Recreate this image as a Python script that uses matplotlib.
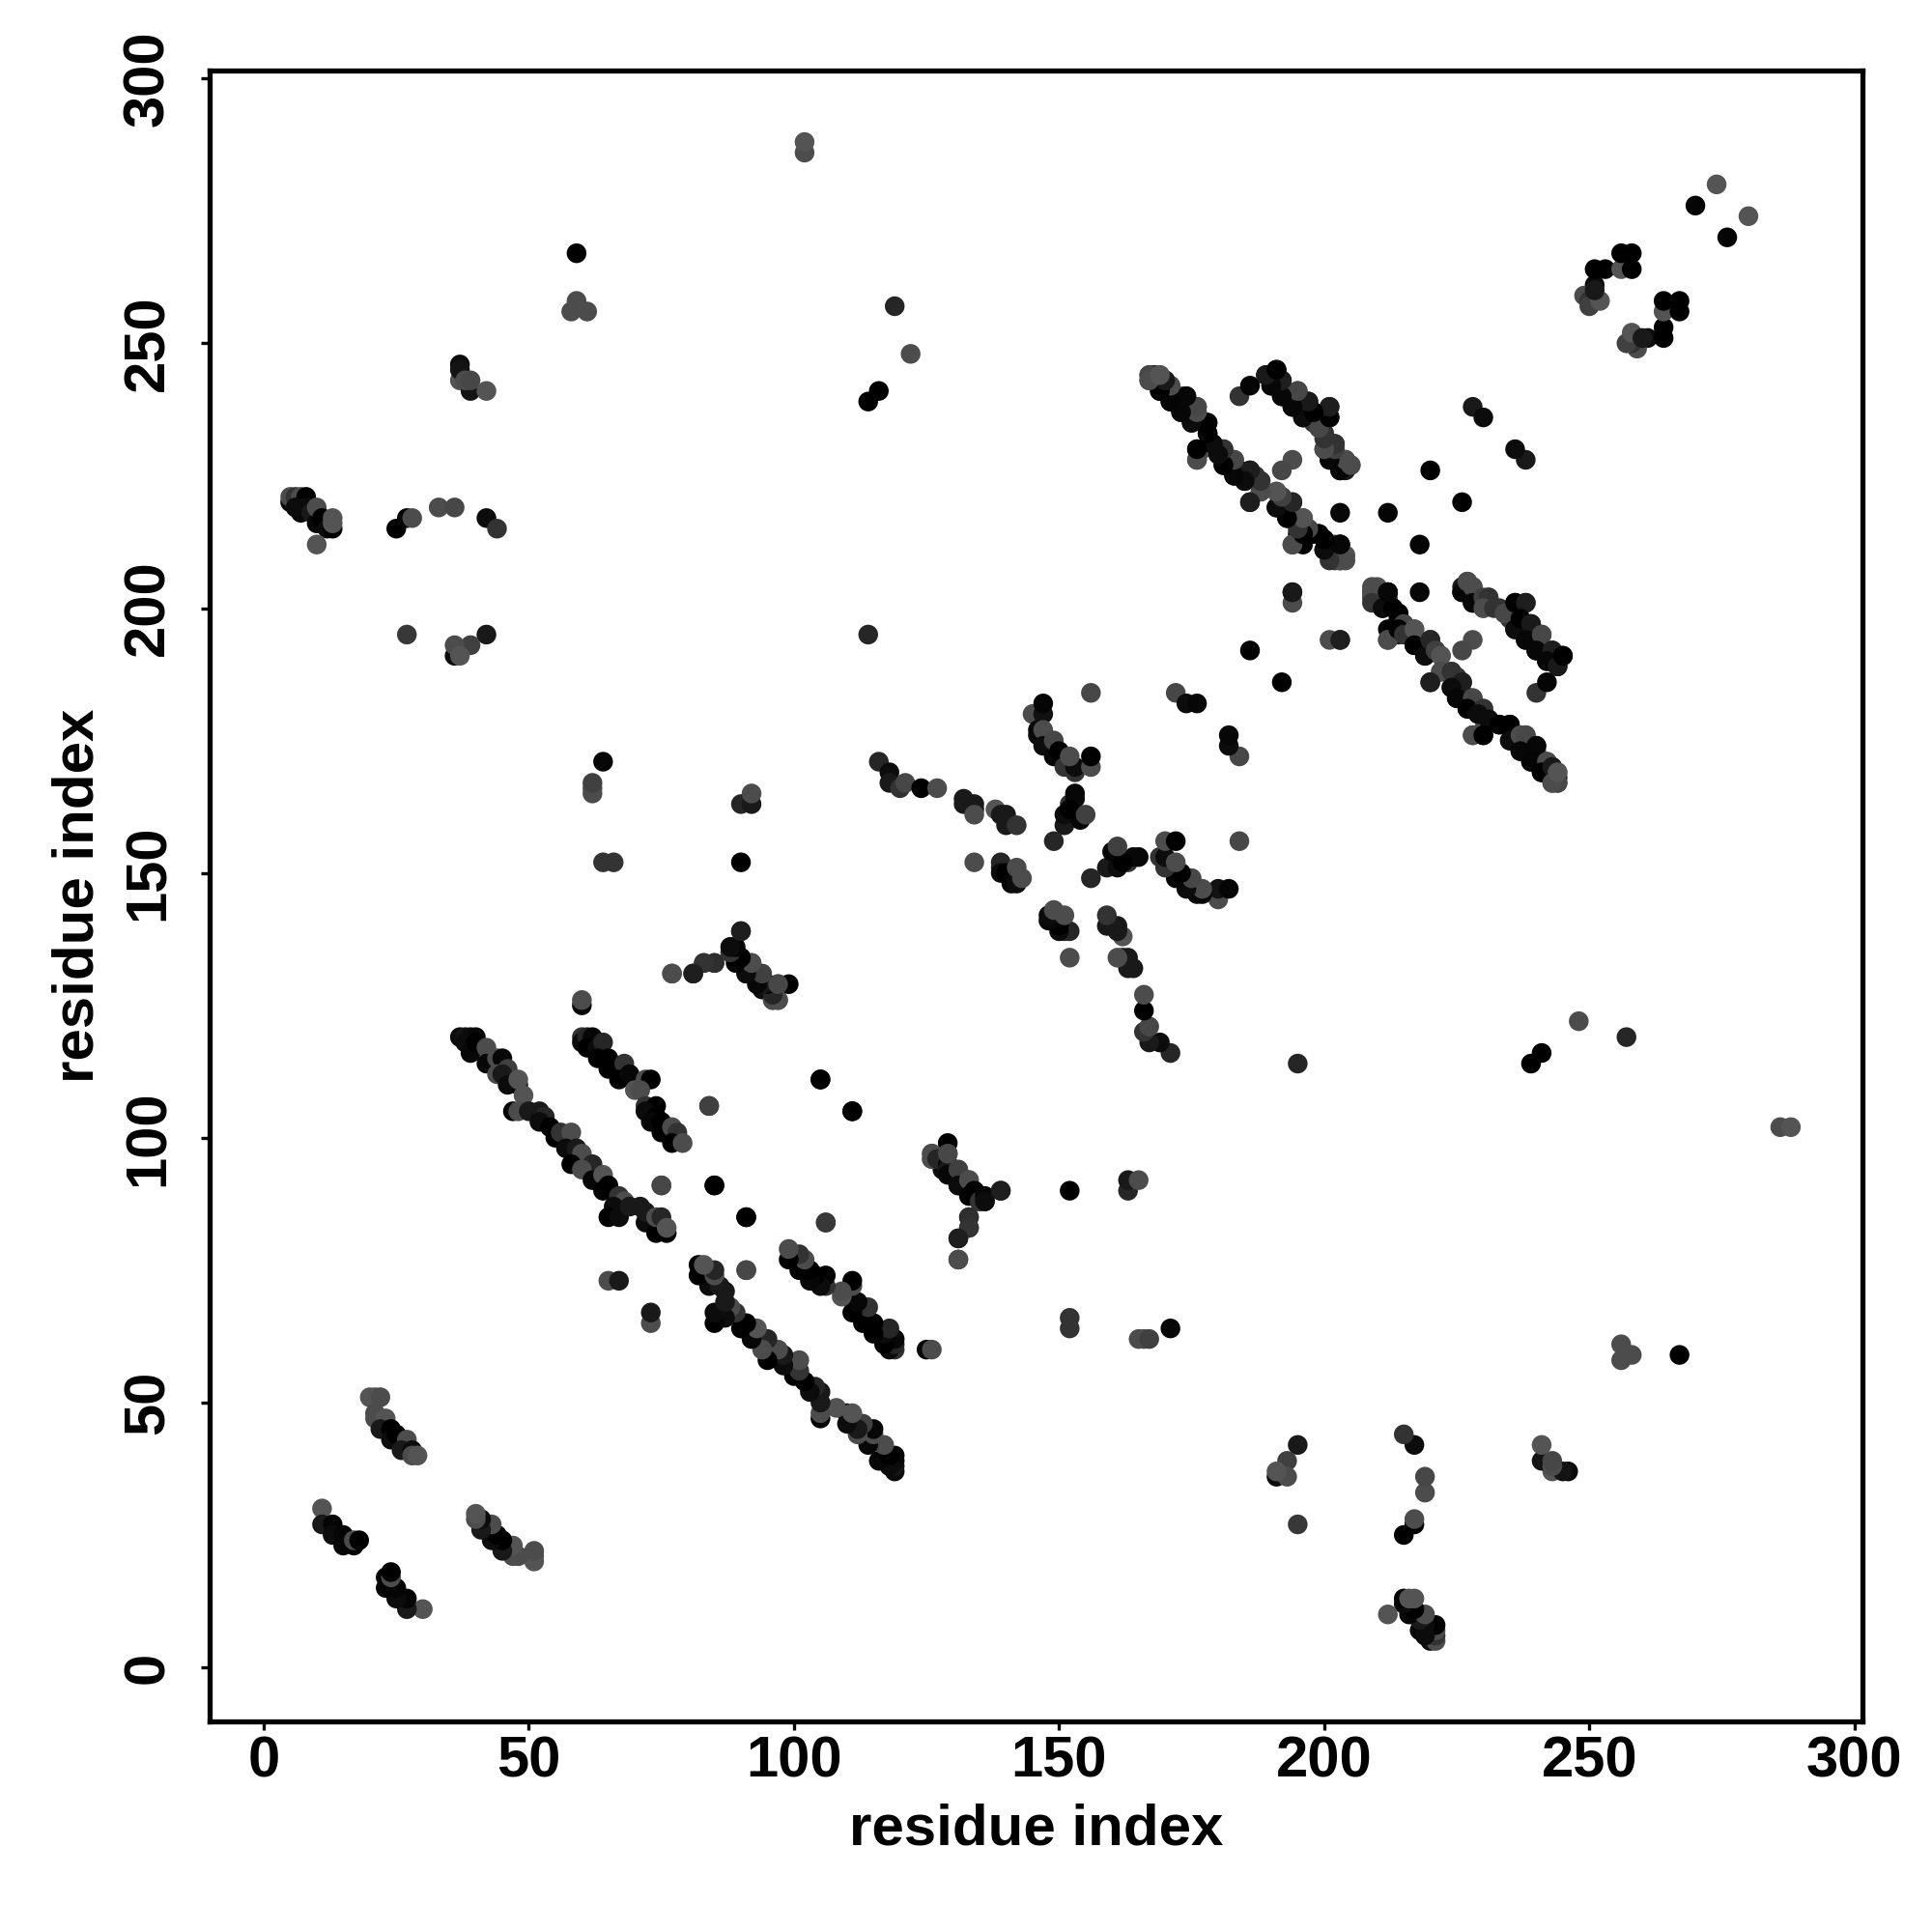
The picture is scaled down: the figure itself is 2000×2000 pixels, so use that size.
"""
Residue contact map, symmetric about the diagonal.
Each contact is listed once as (i, j) and drawn at both (i, j) and (j, i).
Shade is the grey level of the dot.
"""

import matplotlib
matplotlib.use('Agg')
import matplotlib.pyplot as plt

# ── contacts near the N-terminus ───────────────────────────────────────
nterm_a_i = [11, 11, 13, 13, 15, 15, 17, 17, 18]
nterm_a_j = [30, 27, 27, 25, 25, 23, 23, 24, 24]
nterm_a_g = [.33, .1, .02, .05, .02, .02, .02, .3, 0]

nterm_b_i = [20, 21, 22, 21, 21, 23, 22, 24, 24, 25, 27, 26, 28, 28, 29]
nterm_b_j = [51, 51, 51, 48, 47, 47, 45, 45, 43, 44, 43, 41, 41, 40, 40]
nterm_b_g = [.33, .33, .3, .3, .3, .33, .1, 0, .05, 0, .3, .1, .05, .3, .33]

far_a_i = [5, 5, 6, 7, 8, 7, 6, 8, 9, 10, 10, 11, 12, 13, 13, 13, 10,
           25, 27, 28, 33, 36, 42, 44, 27, 42, 39, 36, 36, 37]
far_a_j = [220, 221, 221, 221, 221, 218, 219, 219, 218, 216, 219, 217, 215, 215, 216, 217, 212,
           215, 217, 217, 219, 219, 217, 215, 195, 195, 193, 191, 193, 191]
far_a_g = [.05, .3, .2, .3, 0, .03, .05, .05, .1, .03, .3, 0, .05, 0, .33, .33, .33,
           0, 0, .3, .3, .28, .05, .2, .22, .1, .25, .05, .3, .33]

far_b_i = [37, 37, 37, 39, 38, 39, 42, 59, 59, 58, 61, 59, 102, 102,
           119, 122, 114, 116, 114]
far_b_j = [243, 246, 245, 241, 243, 243, 241, 267, 258, 256, 256, 257, 286, 288,
           257, 248, 239, 241, 195]
far_b_g = [.33, .05, .08, .08, .3, .28, .33, 0, .3, .3, .3, .3, .3, .33,
           .15, .3, 0, 0, .15]

# ── long antiparallel strand pair ──────────────────────────────────────
strand_a_i = [37, 38, 39, 40, 38, 39, 40, 42, 42, 44, 45, 46, 44, 45, 46, 48, 48, 49,
              47, 48, 50, 52, 53, 52, 54, 55, 56, 58, 57, 59, 60, 58, 62, 60, 62, 64,
              65, 64, 67, 68, 66, 65, 67, 69, 71, 72, 72, 74, 74, 75, 76, 76]
strand_a_j = [119, 119, 119, 119, 118, 116, 118, 117, 114, 115, 115, 113, 112, 112, 110, 110, 111, 108,
              105, 105, 105, 105, 104, 103, 102, 100, 101, 101, 98, 98, 97, 95, 95, 94, 92, 93,
              91, 90, 89, 88, 87, 85, 85, 87, 87, 84, 86, 82, 85, 85, 82, 83]
strand_a_g = [.05, .08, .05, .03, .05, .03, 0, .3, .03, .3, .03, .25, .3, .1, .05, .05, .33, .33,
              0, .3, .1, .1, .15, .05, 0, 0, .2, .3, .05, .1, .3, 0, .15, .3, .03, .33,
              0, 0, .2, .3, .05, 0, .05, .1, .1, .05, .1, 0, .3, .15, 0, .33]

strand_b_i = [60, 60, 61, 62, 61, 63, 64, 63, 65, 65, 68, 67, 69, 72, 73, 70, 71,
              72, 74, 72, 74, 73, 75, 75, 77, 78, 77, 79]
strand_b_j = [119, 118, 119, 119, 117, 117, 118, 115, 115, 113, 114, 111, 112, 111, 111, 109, 109,
              106, 106, 105, 104, 103, 103, 101, 102, 101, 99, 99]
strand_b_g = [.2, .05, .15, .03, 0, .05, .15, 0, 0, 0, .2, 0, .03, .3, 0, .33, .3,
              .2, 0, .05, 0, .03, 0, 0, .3, .2, 0, .3]

# ── isolated contacts around the strands ───────────────────────────────
single_i = [84, 75, 85, 91, 91, 65, 67, 60, 60, 105, 111, 106, 64, 62, 62, 62, 64, 66, 90,
            90, 92, 92]
single_j = [106, 91, 91, 85, 75, 73, 73, 125, 126, 111, 105, 84, 171, 165, 166, 167, 152, 152, 152,
            163, 163, 165]
single_g = [.22, .28, 0, 0, .28, .3, .1, .03, .3, 0, 0, .25, .03, .3, .3, .25, .2, .2, 0,
            .15, .1, .3]

hairpin_i = [77, 81, 83, 85, 90, 88, 88, 90, 92, 91, 94, 95, 99, 94, 97, 96, 97]
hairpin_j = [131, 131, 133, 133, 139, 136, 135, 134, 133, 131, 130, 129, 129, 128, 129, 126, 126]
hairpin_g = [.3, .1, .2, .2, .15, 0, .05, 0, .3, 0, .3, .05, 0, .05, .1, .3, .33]

turn_i = [126, 126, 127, 129, 129, 129, 131, 129, 131, 133, 133, 134, 135, 136, 136, 139, 133, 133, 131, 131]
turn_j = [97, 96, 96, 95, 94, 93, 94, 97, 91, 92, 89, 90, 88, 89, 88, 90, 85, 83, 81, 77]
turn_g = [.3, .3, .15, .02, .1, .03, .25, .28, .05, .3, 0, 0, .2, .02, .05, .12, .18, .2, .12, .3]

# ── central cross ──────────────────────────────────────────────────────
cross_a_i = [116, 118, 118, 120, 121, 124, 127, 132, 132, 134, 134, 134, 138, 139, 140, 140, 142, 134]
cross_a_j = [171, 169, 167, 166, 167, 166, 166, 164, 163, 163, 162, 161, 162, 161, 159, 161, 159, 152]
cross_a_g = [.15, .05, .1, .2, .28, 0, .3, .1, .1, .1, .1, .3, .33, .1, .1, .1, .2, .3]

cross_b_i = [139, 139, 139, 140, 141, 142, 142, 143, 149, 151, 151, 152, 153, 153, 154, 152, 155]
cross_b_j = [152, 151, 150, 150, 148, 148, 151, 149, 156, 159, 161, 163, 164, 165, 160, 162, 161]
cross_b_g = [.15, .15, .05, 0, .03, .05, .3, .3, .15, .1, .05, .2, .05, .03, .03, 0, .25]

cross_c_i = [145, 147, 147, 146, 146, 147, 147, 149, 149, 150, 151, 153, 153, 152, 156, 156,
             156, 172, 174, 176]
cross_c_j = [180, 180, 182, 176, 177, 177, 174, 172, 175, 173, 170, 169, 170, 172, 170, 172,
             184, 184, 182, 182]
cross_c_g = [.3, .07, .02, .05, .03, .3, .05, .03, .28, 0, .2, .2, .05, .3, .3, 0,
             .28, .28, .05, .03]

# ── upper strand pairs ─────────────────────────────────────────────────
upper_a_i = [167, 167, 168, 169, 170, 169, 171, 171, 173, 174, 173, 176, 176, 175,
             176, 176, 177, 178, 178, 179, 181, 181, 183, 183, 184, 186, 185, 188, 188, 186,
             191, 192, 194, 191, 193, 196, 197, 195, 196, 194, 198, 199, 200, 202, 203, 202, 203, 204]
upper_a_j = [244, 243, 244, 244, 243, 241, 242, 239, 240, 240, 237, 238, 237, 235,
             228, 230, 230, 235, 233, 231, 230, 227, 228, 225, 226, 226, 224, 224, 222, 220,
             222, 221, 220, 219, 217, 217, 215, 214, 212, 212, 214, 214, 211, 212, 212, 209, 209, 210]
upper_a_g = [.3, .3, .05, .3, .25, .03, .33, .03, .3, .12, .05, .33, .3, .25,
             .3, 0, .3, .02, .02, .05, .2, .05, .3, 0, 0, .1, .1, .15, .25, .12,
             .3, .28, .12, .05, 0, .3, .3, .1, 0, .3, 0, 0, 0, .28, .03, .25, .2, .33]

upper_b_i = [189, 191, 190, 192, 192, 194, 195, 197, 196, 198, 201, 201, 200, 198, 200, 202, 200,
             201, 203, 204, 205, 203, 204, 194, 192, 184, 186, 186]
upper_b_j = [244, 245, 242, 243, 240, 238, 241, 239, 236, 237, 236, 238, 236, 235, 233, 231, 230,
             228, 228, 228, 227, 226, 226, 228, 226, 240, 242, 192]
upper_b_g = [.05, 0, .05, .15, .03, 0, .3, .1, .03, 0, 0, .1, .2, .2, .2, .15, .28,
             .05, .1, .3, .33, .05, .1, .3, .28, .2, .02, 0]

upper_c_i = [203, 203, 194, 194, 212, 203, 209, 209, 209, 211, 212, 213, 214, 214, 215, 212,
             214, 215, 217, 217, 219, 220, 221, 222, 222, 224, 220, 225, 226, 224, 225, 228, 227,
             230, 229, 231, 233, 235, 228, 230, 235, 237, 238, 237, 240, 239, 242, 241, 243, 244, 243, 244]
upper_c_j = [218, 194, 201, 203, 218, 212, 204, 203, 201, 200, 203, 200, 199, 196, 197, 194,
             196, 195, 196, 193, 191, 194, 192, 191, 188, 188, 186, 187, 186, 185, 183, 183, 181,
             181, 180, 179, 178, 178, 176, 176, 175, 176, 176, 173, 174, 171, 171, 169, 170, 167, 167, 169]
upper_c_g = [.03, .1, .3, .12, .02, .03, .3, .3, .2, .05, .03, 0, 0, .02, .28, .3,
             0, .2, .33, 0, .05, .15, .25, .33, .3, .2, .12, .2, .12, .05, .03, .28, 0,
             .2, .05, .05, 0, 0, .3, 0, .05, .3, .28, .03, .03, .02, .3, 0, .1, .28, .3, .33]

upper_d_i = [226, 227, 228, 228, 230, 231, 230, 232, 234, 236, 238, 236, 237, 239, 238, 241, 240,
             243, 242, 244, 245, 220, 228, 230]
upper_d_j = [203, 205, 204, 201, 202, 202, 200, 200, 199, 201, 201, 196, 198, 197, 194, 195, 192,
             192, 190, 189, 191, 226, 238, 236]
upper_d_g = [.03, .3, .3, .03, .25, .2, .3, .2, .28, 0, .12, .05, 0, .1, .03, .28, .03,
             .12, .03, .1, 0, 0, .1, .05]

# ── C-terminal cluster ─────────────────────────────────────────────────
cterm_i = [251, 251, 249, 250, 250, 252, 251, 251, 253, 256, 258, 256, 258, 270, 274]
cterm_j = [261, 259, 259, 258, 257, 258, 264, 260, 264, 264, 264, 267, 267, 276, 280]
cterm_g = [.05, .2, .3, .2, .25, .33, 0, .1, 0, .33, 0, 0, 0, .02, .33]

groups = [
    (nterm_a_i, nterm_a_j, nterm_a_g), (nterm_b_i, nterm_b_j, nterm_b_g),
    (far_a_i, far_a_j, far_a_g), (far_b_i, far_b_j, far_b_g),
    (strand_a_i, strand_a_j, strand_a_g), (strand_b_i, strand_b_j, strand_b_g),
    (single_i, single_j, single_g), (hairpin_i, hairpin_j, hairpin_g),
    (turn_i, turn_j, turn_g), (cross_a_i, cross_a_j, cross_a_g),
    (cross_b_i, cross_b_j, cross_b_g), (cross_c_i, cross_c_j, cross_c_g),
    (upper_a_i, upper_a_j, upper_a_g), (upper_b_i, upper_b_j, upper_b_g),
    (upper_c_i, upper_c_j, upper_c_g), (upper_d_i, upper_d_j, upper_d_g),
    (cterm_i, cterm_j, cterm_g),
]

tick_values = [0, 50, 100, 150, 200, 250, 300]

plt.rcParams['font.family'] = ['Liberation Sans', 'DejaVu Sans']
plt.rcParams['font.weight'] = 'bold'

fig = plt.figure(figsize=(10, 10), dpi=200)
ax = fig.add_axes([217 / 2000, 1 - 1782 / 2000, (1928 - 217) / 2000, (1782 - 73) / 2000])

for res_i, res_j, shade in groups:
    ax.scatter(res_i + res_j, res_j + res_i, c=shade + shade, cmap='gray', vmin=0, vmax=1,
               s=54, linewidths=0)

ax.set_xlim(-10.2, 301.5)
ax.set_ylim(-10.2, 301.5)
ax.set_xticks(tick_values)
ax.set_yticks(tick_values)
ax.tick_params(axis='both', length=3.2, width=1.2, labelsize=21.5)
ax.tick_params(axis='x', pad=2)
ax.tick_params(axis='y', pad=9.6)
plt.setp(ax.get_yticklabels(), rotation=90, va='center')
for side in ax.spines.values():
    side.set_linewidth(1.9)

ax.set_xlabel('residue index', fontsize=21.6, fontweight='bold', labelpad=5.6)
ax.set_ylabel('residue index', fontsize=21.6, fontweight='bold', labelpad=6.6)

fig.savefig('out.png', dpi=200, facecolor='white')
plt.close()
